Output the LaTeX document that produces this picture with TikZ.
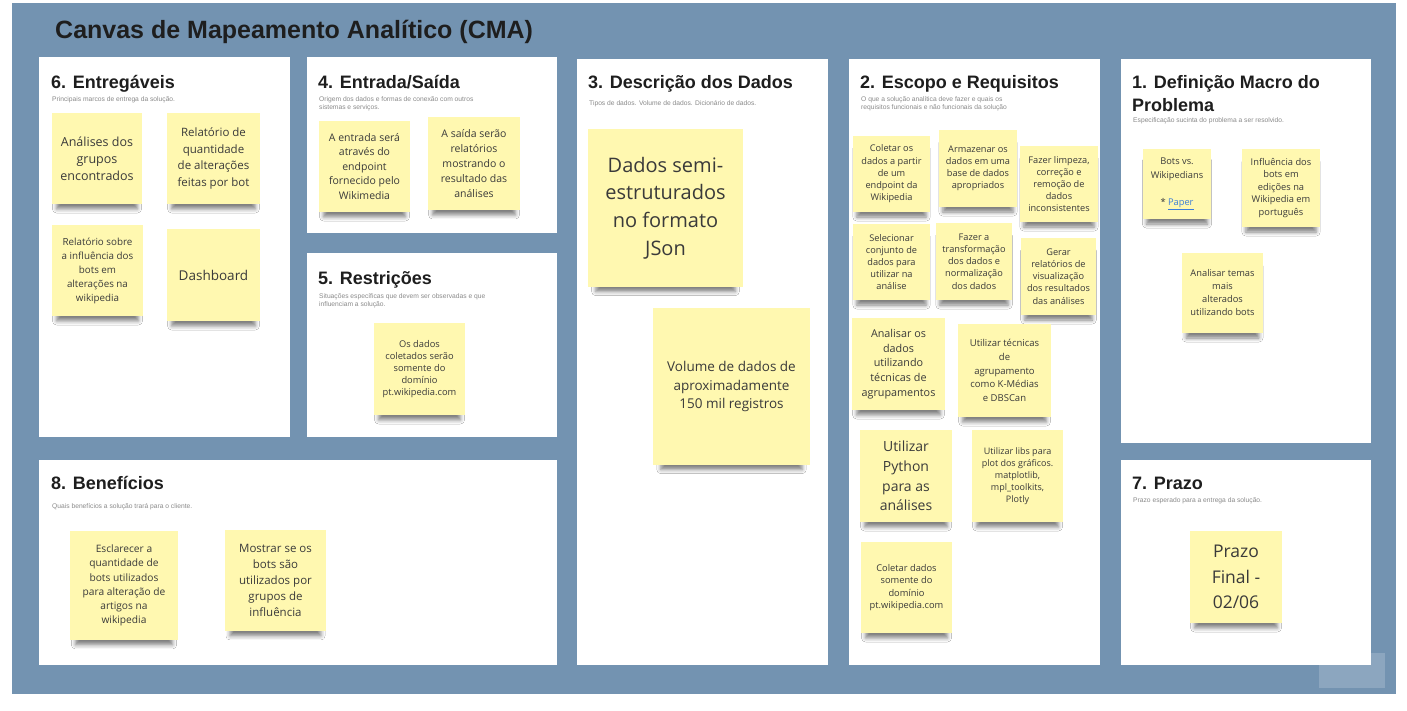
\documentclass[tikz,border=0pt]{standalone}
\usepackage{fontspec}
\setmainfont{Open Sans}
\newfontfamily\headfont{Liberation Sans}
\usetikzlibrary{shadows, shadows.blur, positioning}

\definecolor{canvasblue}{HTML}{7393B1}
\definecolor{canvaslight}{HTML}{8CA6BF}
\definecolor{stickyfill}{HTML}{FFF8B0}
\definecolor{stickytext}{HTML}{3A3A3A}
\definecolor{titletext}{HTML}{1E1E1E}
\definecolor{subtext}{HTML}{8A8A8A}
\definecolor{linkblue}{HTML}{3B7DD8}

\tikzset{
  panel/.style={fill=white},
  paneltitle/.style={anchor=base west, inner sep=0pt, align=left, text=titletext,
    font=\headfont\bfseries\fontsize{18}{23}\selectfont},
  panelsub/.style={anchor=north west, inner sep=0pt, align=left, text=subtext,
    font=\headfont\fontsize{6.7}{8}\selectfont},
  % sticky note: width, height
  sticky/.style 2 args={fill=stickyfill, text=stickytext, align=center, inner sep=1pt,
    minimum width=#1pt, minimum height=#2pt,
    blur shadow={shadow xshift=0pt, shadow yshift={-(0.05*#2+6)*1pt}, shadow scale=0.9,
      shadow blur radius=4.5pt, shadow opacity=50}},
  fs/.style 2 args={font=\fontsize{#1}{#2}\selectfont}
}

\begin{document}
\begin{tikzpicture}[x=1pt, y=-1pt]
  \useasboundingbox (0,0) rectangle (1407,710);
  \fill[white] (0,0) rectangle (1407,710);
  \fill[canvasblue] (12,3) rectangle (1396,694);
  \fill[canvaslight] (1319,653) rectangle (1385,688);

  % panels
  \fill[panel] (39,57) rectangle (290,437);
  \fill[panel] (307,57) rectangle (557,233);
  \fill[panel] (307,253) rectangle (557,437);
  \fill[panel] (577,59) rectangle (828,665);
  \fill[panel] (849,59) rectangle (1100,665);
  \fill[panel] (1121,59) rectangle (1371,443);
  \fill[panel] (39,460) rectangle (557,665);
  \fill[panel] (1121,460) rectangle (1371,665);

  \node[anchor=base west, inner sep=0pt, text=titletext,
    font=\headfont\bfseries\fontsize{25}{30}\selectfont] (title) at (55,38)
    {Canvas de Mapeamento Analítico (CMA)};

  % headings
  \node[paneltitle] (entregaveis) at (51,88) {6. Entregáveis};
  \node[paneltitle] (entrada) at (318,88) {4. Entrada/Saída};
  \node[paneltitle] (descricao) at (588,88) {3. Descrição dos Dados};
  \node[paneltitle] (escopo) at (860,88) {2. Escopo e Requisitos};
  \node[paneltitle] (definicao) at (1132,111) {1. Definição Macro do\\Problema};
  \node[paneltitle] (restricoes) at (318,284) {5. Restrições};
  \node[paneltitle] (beneficios) at (51,489) {8. Benefícios};
  \node[paneltitle] (prazo) at (1132,489) {7. Prazo};

  \node[panelsub] (entregavelSub) at (52,96) {Principais marcos de entrega da solução.};
  \node[panelsub] (entradaSub) at (319,96) {Origem dos dados e formas de conexão com outros\\sistemas e serviços.};
  \node[panelsub] (descricaoSub) at (589,100) {Tipos de dados. Volume de dados. Dicionário de dados.};
  \node[panelsub] (escopoSub) at (861,96) {O que a solução analítica deve fazer e quais os\\requisitos funcionais e não funcionais da solução};
  \node[panelsub] (definicaoSub) at (1133,117) {Especificação sucinta do problema a ser resolvido.};
  \node[panelsub] (restricoesSub) at (319,293) {Situações específicas que devem ser observadas e que\\influenciam a solução.};
  \node[panelsub] (beneficiosSub) at (52,503) {Quais benefícios a solução trará para o cliente.};
  \node[panelsub] (prazoSub) at (1133,497) {Prazo esperado para a entrega da solução.};

  % 6. Entregaveis
  \node[sticky={90}{91}, fs={12.5}{17}] (analises) at (97,158.5)
    {Análises dos\\grupos\\encontrados};
  \node[sticky={93}{91}, fs={11.5}{16.5}] (relQuantidade) at (213.5,158.5)
    {Relatório de\\quantidade\\de alterações\\feitas por bot};
  \node[sticky={91}{91}, fs={9.8}{14}] (relInfluencia) at (97.5,270.5)
    {Relatório sobre\\a influência dos\\bots em\\alterações na\\wikipedia};
  \node[sticky={93}{92}, fs={13.5}{17}] (dashboard) at (213.5,275)
    {Dashboard};

  % 4. Entrada/Saida
  \node[sticky={91}{91}, fs={10.5}{14.5}] (entradaWiki) at (364.5,166.5)
    {A entrada será\\através do\\endpoint\\fornecido pelo\\Wikimedia};
  \node[sticky={92}{93}, fs={10.5}{14.8}] (saidaRel) at (474,163.5)
    {A saída serão\\relatórios\\mostrando o\\resultado das\\análises};

  % 5. Restricoes
  \node[sticky={91}{92}, fs={9.3}{11.8}] (dominio) at (419.5,369)
    {Os dados\\coletados serão\\somente do\\domínio\\pt.wikipedia.com};

  % 3. Descricao dos Dados
  \node[sticky={155}{158}, fs={20}{27.8}] (semiEstr) at (665.5,208)
    {Dados semi-\\estruturados\\no formato\\JSon};
  \node[sticky={157}{157}, fs={13.5}{18.5}] (volume) at (731.5,386.5)
    {Volume de dados de\\aproximadamente\\150 mil registros};

  % 2. Escopo e Requisitos
  \node[sticky={77}{76}, fs={9.2}{12.2}] (coletar) at (891.5,174)
    {Coletar os\\dados a partir\\de um\\endpoint da\\Wikipedia};
  \node[sticky={78}{77}, fs={9.2}{12.2}] (armazenar) at (978,168.5)
    {Armazenar os\\dados em uma\\base de dados\\apropriados};
  \node[sticky={78}{76}, fs={9.2}{12.2}] (limpeza) at (1059,184)
    {Fazer limpeza,\\correção e\\remoção de\\dados\\inconsistentes};
  \node[sticky={77}{76}, fs={9.2}{12.2}] (selecionar) at (891.5,262)
    {Selecionar\\conjunto de\\dados para\\utilizar na\\análise};
  \node[sticky={76}{77}, fs={9.2}{12.2}] (transformar) at (974,261.5)
    {Fazer a\\transformação\\dos dados e\\normalização\\dos dados};
  \node[sticky={75}{77}, fs={9.2}{12.2}] (gerarRel) at (1058.5,276.5)
    {Gerar\\relatórios de\\visualização\\dos resultados\\das análises};
  \node[sticky={93}{92}, fs={10.8}{14.8}] (agrupar) at (898.5,364)
    {Analisar os\\dados\\utilizando\\técnicas de\\agrupamentos};
  \node[sticky={93}{93}, fs={9.5}{13.7}] (kmedias) at (1004.5,370.5)
    {Utilizar técnicas\\de\\agrupamento\\como K-Médias\\e DBSCan};
  \node[sticky={92}{92}, fs={14}{19.7}] (python) at (906,476)
    {Utilizar\\Python\\para as\\análises};
  \node[sticky={91}{92}, fs={9}{12}] (libs) at (1017.5,476)
    {Utilizar libs para\\plot dos gráficos.\\matplotlib,\\mpl\_toolkits,\\Plotly};
  \node[sticky={91}{91}, fs={9.3}{12.5}] (coletarPt) at (906.5,587.5)
    {Coletar dados\\somente do\\domínio\\pt.wikipedia.com};

  % 1. Definicao Macro do Problema
  \node[sticky={68}{70}, fs={9.3}{13.5}] (botsVs) at (1177,184)
    {Bots vs.\\Wikipedians\\[13.5pt]* \textcolor{linkblue}{\underline{Paper}}};
  \node[sticky={78}{78}, fs={9.3}{12.5}] (influencia) at (1281,188)
    {Influência dos\\bots em\\edições na\\Wikipedia em\\português};
  \node[sticky={81}{80}, fs={9.3}{13}] (temas) at (1222.5,293)
    {Analisar temas\\mais\\alterados\\utilizando bots};

  % 7. Prazo
  \node[sticky={92}{92}, fs={17.5}{25.5}] (prazoFinal) at (1236,577)
    {Prazo\\Final -\\02/06};

  % 8. Beneficios
  \node[sticky={108}{109}, fs={10.2}{14.3}] (esclarecer) at (124,585.5)
    {Esclarecer a\\quantidade de\\bots utilizados\\para alteração de\\artigos na\\wikipedia};
  \node[sticky={101}{101}, fs={11.5}{16}] (mostrar) at (275.5,580.5)
    {Mostrar se os\\bots são\\utilizados por\\grupos de\\influência};
\end{tikzpicture}
\end{document}
